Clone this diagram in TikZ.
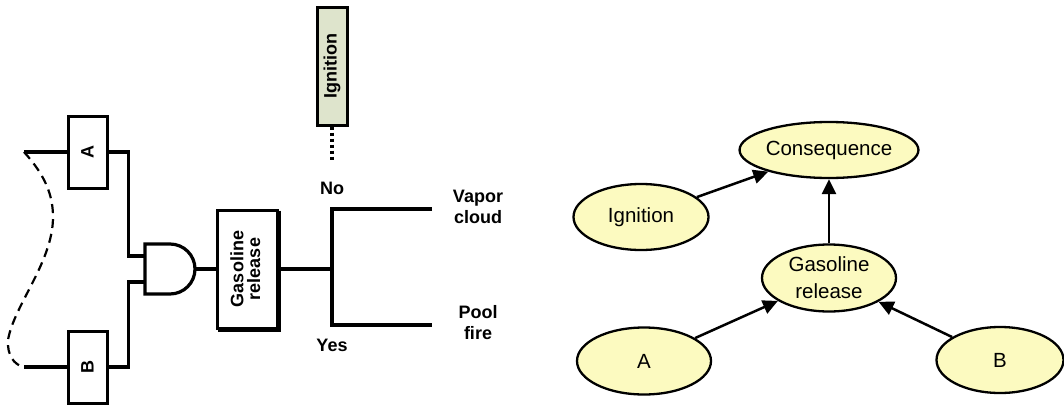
\documentclass[tikz,border=0pt]{standalone}
\usepackage{fontspec}
\setmainfont{Liberation Sans}
\usepackage{graphicx}
\usetikzlibrary{arrows.meta,calc,shapes.geometric}
\definecolor{bnfill}{RGB}{252,250,192}
\definecolor{igfill}{RGB}{222,228,204}

\begin{document}
\begin{tikzpicture}[x=1pt,y=-1pt,
  wire/.style={line width=3.2pt},
  evbox/.style={draw, line width=3pt, fill=white, inner sep=0pt},
  ftxt/.style={font=\bfseries\fontsize{18}{22}\selectfont, align=center, inner sep=0pt},
  bn/.style={ellipse, draw, line width=2.3pt, fill=bnfill, inner sep=0pt,
             font=\fontsize{20.5}{27}\selectfont, align=center},
  link/.style={line width=2.5pt, -{Triangle[length=15pt,width=14pt]}}]
\useasboundingbox (0,0) rectangle (1064,404);

% ---------- fault tree / event tree ----------
\node[evbox, minimum width=39pt, minimum height=72pt] (boxA) at (87.5,152)
  {\rotatebox{90}{\bfseries\fontsize{18}{22}\selectfont A}};
\node[evbox, minimum width=39pt, minimum height=72pt] (boxB) at (87.5,367)
  {\rotatebox{90}{\bfseries\fontsize{18}{22}\selectfont B}};

\coordinate (dA) at (24,152);
\coordinate (dB) at (24,367);
\draw[wire] (boxA.west) -- (dA);
\draw[wire] (boxB.west) -- (dB);
\draw[line width=2.2pt, dash pattern=on 9pt off 6pt]
  (dA) .. controls (45,175) and (53,195) .. (53,217)
       .. controls (53,262) and (14,305) .. (8,340)
       .. controls (7,355) and (14,365) .. (dB);

% AND gate
\draw[wire, fill=white] (145,244) -- (170,244)
  arc[start angle=-90, end angle=90, radius=25] -- (145,294) -- cycle;
\coordinate (gin1) at (145,256);
\coordinate (gin2) at (145,282);
\coordinate (gout) at (195,269);

\draw[wire] (boxA.east) -- ++(20,0) |- (gin1);
\draw[wire] (boxB.east) -- ++(20,0) |- (gin2);

\node[evbox, minimum width=60pt, minimum height=118pt] (gas) at (247,269)
  {\rotatebox{90}{\begin{tabular}{@{}c@{}}\bfseries\fontsize{18}{23}\selectfont Gasoline\\
   \bfseries\fontsize{18}{23}\selectfont release\end{tabular}}};
% heavy shadow edge on the right and bottom of the release box
\draw[line width=2.6pt]
  ($(gas.north east)+(0.8,2)$) -- ($(gas.south east)+(0.8,0.8)$) -- ($(gas.south west)+(2,0.8)$);
\draw[wire] (gout) -- (gas.west);

\coordinate (split) at (332,269);
\coordinate (ytop) at (332,209);
\coordinate (ybot) at (332,325);
\coordinate (endTop) at (432,209);
\coordinate (endBot) at (432,325);
\draw[wire] (gas.east) -- (split);
\draw[wire] (endTop) -- (ytop) -- (ybot) -- (endBot);

\node[evbox, fill=igfill, minimum width=30pt, minimum height=117pt] (igbox) at (332,66.5)
  {\rotatebox{90}{\bfseries\fontsize{18}{22}\selectfont Ignition}};
\coordinate (igdot) at (332,160);
\draw[line width=3.2pt, dash pattern=on 3pt off 3pt] (igbox.south) -- (igdot);

\node[ftxt] (no) at (332,188) {No};
\node[ftxt] (yes) at (332,345) {Yes};
\node[ftxt, font=\bfseries\fontsize{18}{21}\selectfont] (vapor) at (478,207) {Vapor\\cloud};
\node[ftxt, font=\bfseries\fontsize{18}{21}\selectfont] (pool) at (478,323) {Pool\\fire};

% ---------- Bayesian network ----------
\node[bn, minimum width=154pt, minimum height=56pt] (cons) at (829,150) {Consequence};
\node[bn, minimum width=135pt, minimum height=66pt] (ign) at (641,217) {Ignition};
\node[bn, minimum width=134pt, minimum height=67pt] (rel) at (829,278) {Gasoline\\release};
\node[bn, minimum width=134pt, minimum height=67pt] (bnA) at (644,361) {A};
\node[bn, minimum width=127pt, minimum height=66pt] (bnB) at (1000,360) {B};

\draw[link] (ign) -- (cons);
\draw[link] (rel) -- (cons);
\draw[link] (bnA) -- (rel);
\draw[link] (bnB) -- (rel);
\end{tikzpicture}
\end{document}
